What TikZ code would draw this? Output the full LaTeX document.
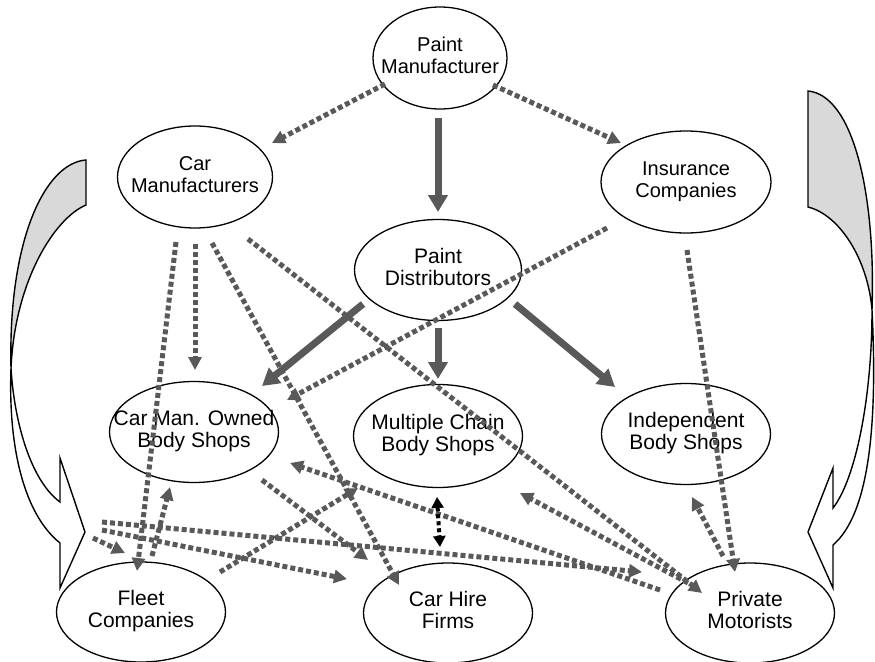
\documentclass[tikz,border=0pt]{standalone}
\usepackage{fontspec}
\setmainfont{Liberation Sans}
\usetikzlibrary{shapes.geometric, arrows.meta, calc}
\definecolor{arrgray}{HTML}{595959}
\definecolor{backface}{HTML}{D9D9D9}
% two centred lines that do not widen the surrounding ellipse
\newcommand\twolines[1]{\makebox[0pt]{\begin{tabular}{@{}c@{}}#1\end{tabular}}}

\begin{document}
\begin{tikzpicture}[
  x=1pt, y=-1pt,
  ent/.style={ellipse, draw=black, line width=1.3pt, inner sep=0pt,
              font=\fontsize{21}{22.5}\selectfont},
  flow/.style={draw=arrgray, line width=7pt, -{Triangle[length=17pt,width=19pt]}},
  link/.style={draw=arrgray, line width=5pt, dash pattern=on 5pt off 3pt,
               -{Triangle[length=13pt,width=13pt]}},
  pair/.style={draw=black, line width=4pt, dash pattern=on 4pt off 3pt,
               {Triangle[length=11pt,width=12pt]}-{Triangle[length=11pt,width=12pt]}},
  bigarrow/.style={draw=black, line width=1.4pt, line join=miter},
]
\fill[white] (0,0) rectangle (875,661);
\useasboundingbox (0,0) rectangle (875,661);

% ---- parties ----
\node[ent, minimum width=134pt, minimum height=102pt, font=\fontsize{20}{22}\selectfont]
  (pm) at (440,58) {\twolines{Paint\\Manufacturer}};
\node[ent, minimum width=155pt, minimum height=102pt, font=\fontsize{20}{22}\selectfont]
  (cm) at (195,177) {\twolines{Car\\Manufacturers}};
\node[ent, minimum width=170pt, minimum height=102pt, font=\fontsize{20}{22}\selectfont]
  (ins) at (686,182) {\twolines{Insurance\\Companies}};
\node[ent, minimum width=167pt, minimum height=101pt] (pd) at (438,270) {\twolines{Paint\\Distributors}};
\node[ent, minimum width=169pt, minimum height=101pt] (cmo) at (194,432) {\twolines{Car Man. Owned\\Body Shops}};
\node[ent, minimum width=169pt, minimum height=103pt] (mc) at (438,436) {\twolines{Multiple Chain\\Body Shops}};
\node[ent, minimum width=169pt, minimum height=101pt] (ibs) at (686,434) {\twolines{Independent\\Body Shops}};
\node[ent, minimum width=169pt, minimum height=100pt] (fleet) at (141,612) {\twolines{Fleet\\Companies}};
\node[ent, minimum width=169pt, minimum height=100pt] (hire) at (448,613) {\twolines{Car Hire\\Firms}};
\node[ent, minimum width=169pt, minimum height=100pt] (priv) at (750,613) {\twolines{Private\\Motorists}};

% ---- large curved arrows at the sides ----
\coordinate (ltip) at (85,532);
\coordinate (rtip) at (808,532);
\fill[backface] (86,160) .. controls (45,163) and (8,240) .. (11,368)
  .. controls (15,280) and (55,218) .. (86,205) -- cycle;
\draw[bigarrow] (86,160) .. controls (45,163) and (8,240) .. (11,368)
  .. controls (14,420) and (30,480) .. (60,502) -- (60,458) -- (ltip) -- (60,588) -- (60,543)
  .. controls (25,515) and (8,450) .. (11,368)
  .. controls (15,280) and (55,218) .. (86,205) -- cycle;

\fill[backface] (808,91) .. controls (852,95) and (876,190) .. (872,310)
  .. controls (868,260) and (840,215) .. (808,207) -- cycle;
\draw[bigarrow] (808,91) .. controls (852,95) and (876,190) .. (872,310)
  .. controls (872,400) and (855,480) .. (833,508) -- (833,468) -- (rtip) -- (833,588) -- (833,545)
  .. controls (868,515) and (878,430) .. (872,310)
  .. controls (868,260) and (840,215) .. (808,207) -- cycle;

% ---- paint supply ----
\draw[flow] ($(pm.center)+(-2,60)$) -- ($(pd.center)+(0,-58)$);
\draw[flow] ($(pd.center)+(-75,34)$) -- ($(cmo.center)+(68,-46)$);
\draw[flow] ($(pd.center)+(0,58)$) -- ($(mc.center)+(0,-57)$);
\draw[flow] ($(pd.center)+(77,34)$) -- ($(ibs.center)+(-71,-47)$);

% ---- influence links ----
\draw[link] ($(pm.center)+(-55,26)$) -- ($(cm.center)+(77,-34)$);
\draw[link] ($(pm.center)+(53,27)$) -- ($(ins.center)+(-65,-39)$);
\draw[link] ($(ins.center)+(-79,46)$) -- ($(cmo.center)+(93,-32)$);
\draw[link] ($(cm.center)+(-19,65)$) -- ($(fleet.center)+(-4,-41)$);
\draw[link] ($(cm.center)+(0,67)$) -- ($(cmo.center)+(1,-62)$);
\draw[link] ($(cm.center)+(17,66)$) -- ($(hire.center)+(-49,-28)$);
\draw[link] ($(cm.center)+(53,62)$) -- ($(priv.center)+(-48,-20)$);
\draw[link] ($(ins.center)+(1,68)$) -- ($(priv.center)+(-15,-41)$);
\draw[link] ($(priv.center)+(-27,-57)$) -- ($(ibs.center)+(6,63)$);
\draw[link] ($(priv.center)+(-62,-30)$) -- ($(mc.center)+(82,57)$);
\draw[link] ($(priv.center)+(-90,-23)$) -- ($(cmo.center)+(96,31)$);
\draw[link] ($(cmo.center)+(68,48)$) -- ($(hire.center)+(-80,-53)$);
\draw[link] ($(fleet.center)+(79,-40)$) -- ($(mc.center)+(-80,52)$);
\draw[link] ($(ltip)+(17,-10)$) -- ($(priv.center)+(-108,-41)$);
\draw[link] ($(ltip)+(17,-2)$) -- ($(hire.center)+(-101,-34)$);
\draw[link] ($(ltip)+(8,6)$) -- ($(fleet.center)+(-16,-59)$);
\draw[link] ($(fleet.center)+(11,-56)$) -- ($(cmo.center)+(-24,55)$);

% ---- two-way link between chains and hire firms ----
\draw[pair] ($(mc.center)+(-1,61)$) -- ($(hire.center)+(-8,-66)$);
\end{tikzpicture}
\end{document}
